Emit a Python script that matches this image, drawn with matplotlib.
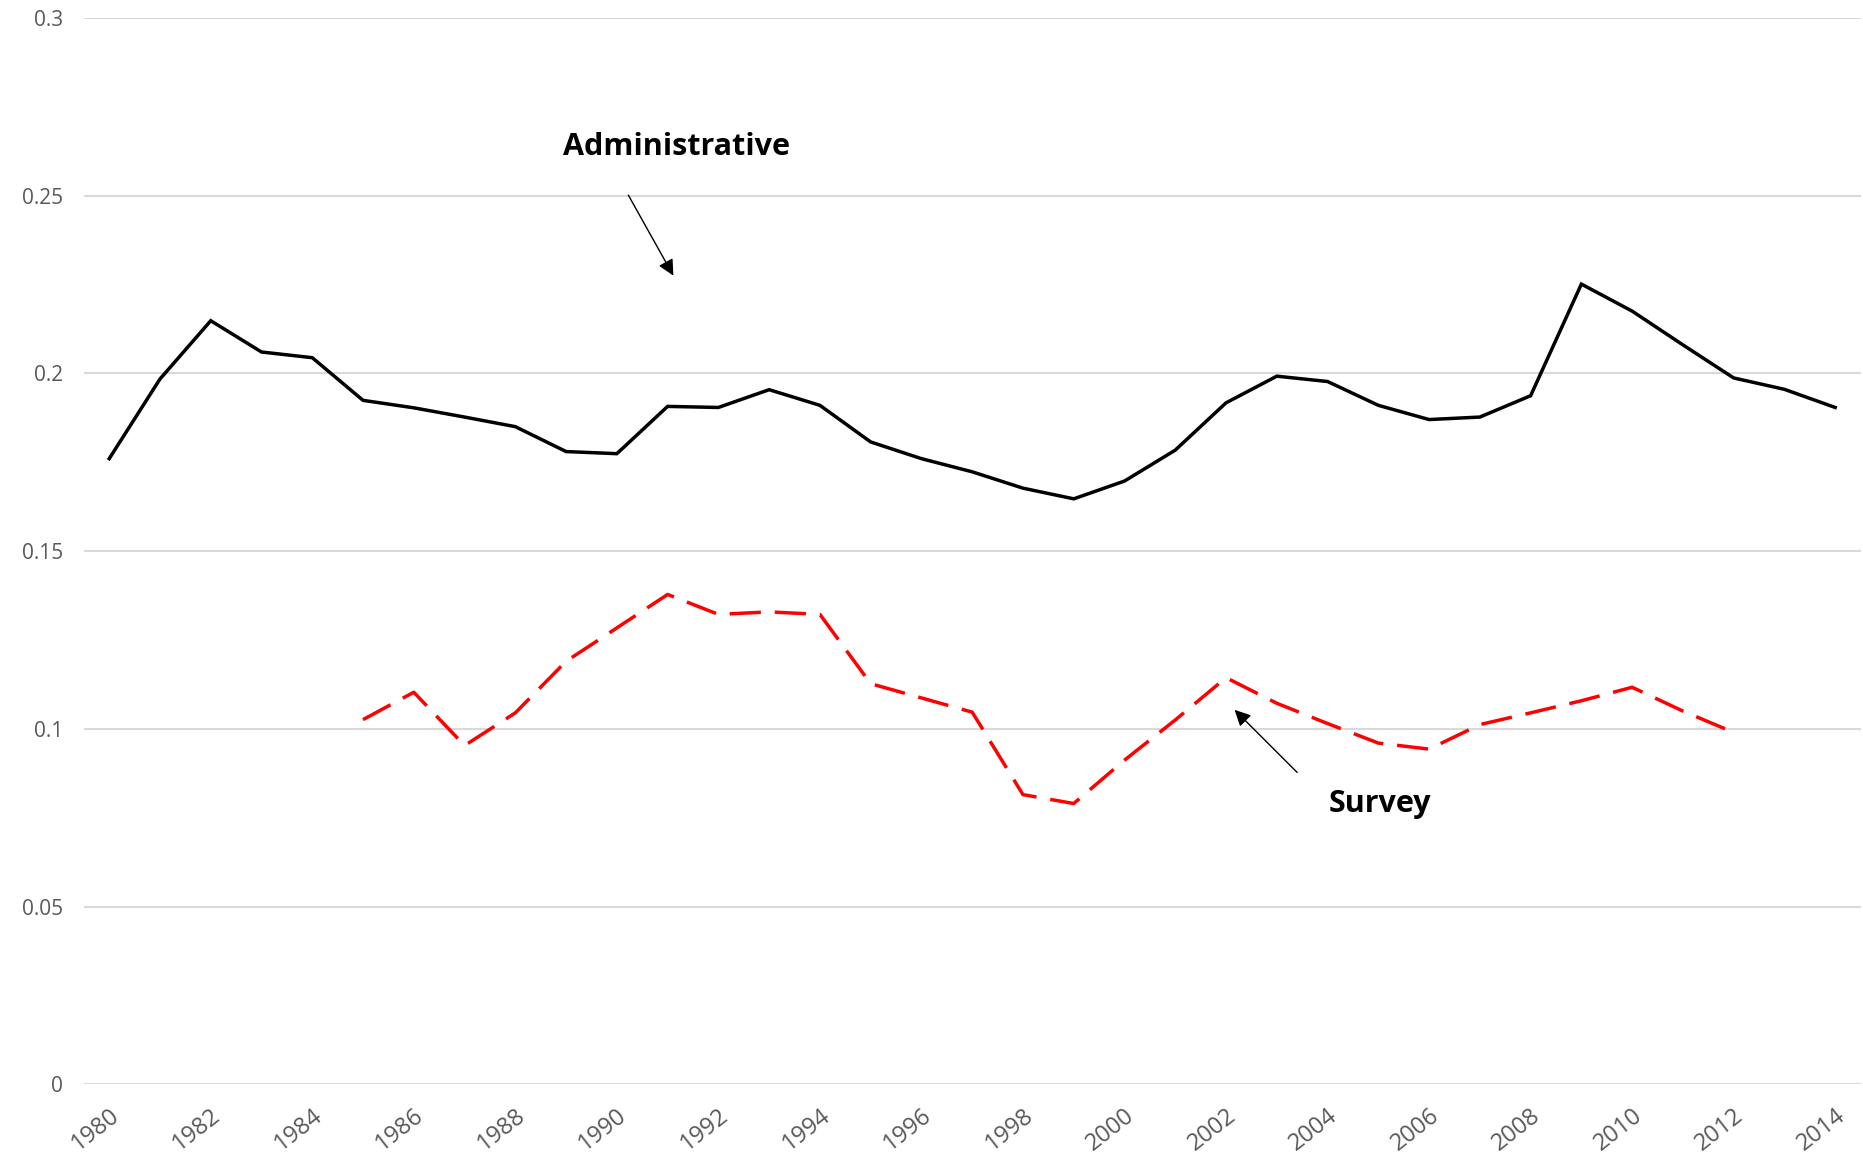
import numpy as np
import matplotlib.pyplot as plt

# years and the two series
years = list(range(1980, 2015))
admin = [0.176, 0.1984, 0.2148, 0.206, 0.2044, 0.1924, 0.1903, 0.1877, 0.185, 0.178,
         0.1774, 0.1907, 0.1904, 0.1954, 0.191, 0.1807, 0.176, 0.1723, 0.1677, 0.1647,
         0.1697, 0.1784, 0.1917, 0.1992, 0.1977, 0.191, 0.187, 0.1877, 0.1937, 0.2251,
         0.2175, 0.208, 0.1987, 0.1955, 0.1904]
survey_years = list(range(1985, 2013))
survey = [0.1026, 0.1103, 0.0953, 0.1045, 0.119, 0.1284, 0.1378, 0.1322, 0.1329, 0.1322,
          0.1127, 0.1087, 0.1047, 0.0815, 0.079, 0.0912, 0.1025, 0.1144, 0.1072, 0.1015,
          0.096, 0.0943, 0.1012, 0.1045, 0.1079, 0.1117, 0.105, 0.099]
yticks = [0, 0.05, 0.1, 0.15, 0.2, 0.25, 0.3]
ytick_labels = ["0", "0.05", "0.1", "0.15", "0.2", "0.25", "0.3"]
xticks = list(range(1980, 2015, 2))

plt.rcParams['font.family'] = ['Open Sans', 'DejaVu Sans']

fig = plt.figure(figsize=(18.63, 11.64), dpi=100)
ax = fig.add_axes([0.045, 0.0684, 0.9537, 0.9163])

ax.plot(years, admin, color='black', lw=2.5, solid_joinstyle='miter')
ax.plot(survey_years, survey, color='#ff0000', lw=2.5, dashes=(9, 4))

ax.set_xlim(1979.5, 2014.5)
ax.set_ylim(0, 0.3)
ax.set_yticks(yticks)
ax.set_yticklabels(ytick_labels)
ax.set_xticks(xticks)
ax.set_xticklabels([str(y) for y in xticks], rotation=38, ha='right', rotation_mode='anchor')
ax.tick_params(axis='both', length=0, labelsize=15, labelcolor='#595959')
ax.tick_params(axis='x', labelsize=17, pad=14)
ax.tick_params(axis='y', pad=15)
ax.grid(axis='y', color='#d9d9d9', lw=1.5)
ax.set_axisbelow(True)
for s in ax.spines.values():
    s.set_visible(False)

ax.annotate('', xy=(1991.14, 0.2268), xytext=(1990.2, 0.2508),
            arrowprops=dict(arrowstyle='-|>', color='black', lw=1, mutation_scale=24))
ax.text(1991.18, 0.2637, 'Administrative', fontsize=22, fontweight='bold', ha='center', va='center')
ax.annotate('', xy=(2002.13, 0.1059), xytext=(2003.44, 0.0872),
            arrowprops=dict(arrowstyle='-|>', color='black', lw=1, mutation_scale=24))
ax.text(2005.03, 0.0788, 'Survey', fontsize=22, fontweight='bold', ha='center', va='center')

fig.savefig('out.png', dpi=100)
